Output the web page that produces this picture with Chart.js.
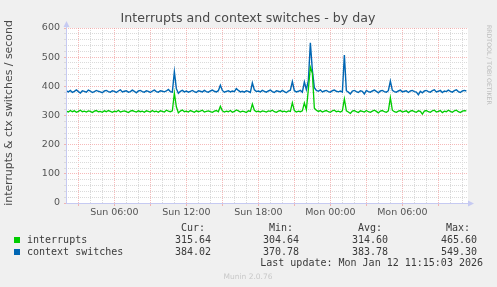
<!DOCTYPE html>
<html><head><meta charset="utf-8">
<script src="https://cdn.jsdelivr.net/npm/chart.js@4"></script>
<style>html,body{margin:0;padding:0;background:#f0f0f0;overflow:hidden}#wrap{width:497px;height:287px;position:relative}</style>
</head><body><div id="wrap"><canvas id="c" width="497" height="287"></canvas></div>
<script>
const titleText = 'Interrupts and context switches - by day';
const yTitleText = 'interrupts & ctx switches / second';
const seriesNames = ['interrupts', 'context switches'];
const seriesColors = ['#00cc00', '#0066b3'];
const startHour = 2;
const stepHours = 1 / 6;
const interrupts = [
315,312,317,313,316,311,314,318,313,315,312,316,314,310,315,317,313,314,311,316,
313,317,314,311,315,313,318,312,314,316,313,310,315,317,314,312,316,313,315,311,
316,314,312,317,313,315,311,316,314,312,318,315,313,316,377,330,309,315,319,313,
315,312,317,314,311,316,313,315,318,312,314,316,313,311,315,317,313,332,316,312,
315,313,317,311,314,319,316,312,315,313,310,316,314,339,318,313,315,312,316,314,
312,316,314,318,313,311,315,317,313,315,312,316,314,344,317,312,315,313,316,343,
320,390,466,445,325,318,314,317,312,315,317,313,311,316,318,313,315,312,316,357,
316,312,307,315,317,313,310,316,314,312,317,313,311,315,318,314,309,315,317,313,
311,316,361,318,313,311,315,317,312,314,316,310,315,317,313,311,316,314,305,315,
317,313,311,316,318,312,314,317,310,315,313,318,314,311,316,318,313,310,315,317,
316];
const contextSwitches = [
384,381,386,379,383,388,382,377,385,383,380,387,384,379,382,386,383,381,378,384,
386,382,380,385,383,379,384,388,381,383,385,380,382,387,383,378,384,386,382,380,
385,383,379,384,387,382,380,385,383,381,384,389,382,380,450,392,376,383,386,381,
384,380,383,386,382,379,385,383,381,386,382,380,384,387,383,381,385,404,386,380,
383,385,381,384,382,392,386,381,383,380,385,383,379,412,388,382,384,381,386,383,
380,384,387,382,379,385,383,381,386,382,378,384,387,416,385,381,383,386,380,415,
389,420,549,455,395,386,383,388,381,384,386,382,380,385,387,383,381,384,380,507,
385,380,374,384,386,382,379,385,383,374,386,382,380,384,387,383,378,384,386,382,
380,385,418,386,382,380,384,387,381,383,385,379,384,386,382,380,371,383,378,384,
386,382,380,385,388,381,383,386,379,384,382,387,383,380,385,388,382,379,384,386,
384];
const xMinHour = 1.97, xMaxHour = 35.47;
const xGridHours = [2,3,4,5,6,7,8,9,10,11,12,13,14,15,16,17,18,19,20,21,22,23,24,25,26,27,28,29,30,31,32,33,34,35];
const xLabelHours = [6, 12, 18, 24, 30];
const xLabelTexts = ['Sun 06:00', 'Sun 12:00', 'Sun 18:00', 'Mon 00:00', 'Mon 06:00'];
const yGridValues = [0,20,40,60,80,100,120,140,160,180,200,220,240,260,280,300,320,340,360,380,400,420,440,460,480,500,520,540,560,580,600];
const yLabelValues = [0,100,200,300,400,500,600];
const legendHeaders = ['Cur:', 'Min:', 'Avg:', 'Max:'];
const legendCur = ['315.64', '384.02'];
const legendMin = ['304.64', '370.78'];
const legendAvg = ['314.60', '383.78'];
const legendMax = ['465.60', '549.30'];
const lastUpdate = 'Last update: Mon Jan 12 11:15:03 2026';
const footerText = 'Munin 2.0.76';
const sideText = 'RRDTOOL / TOBI OETIKER';

const toPoints = arr => arr.map((v, i) => ({ x: startHour + i * stepHours, y: v }));
const MAJOR = 'rgba(240,140,140,0.6)';
const MINOR = '#dadada';
const AXIS = '#c6caf2';

const decor = {
  id: 'decor',
  beforeDraw(chart) {
    const { ctx, chartArea: a } = chart;
    ctx.save();
    ctx.fillStyle = '#f0f0f0';
    ctx.fillRect(0, 0, chart.width, chart.height);
    ctx.fillStyle = '#ffffff';
    ctx.fillRect(a.left, a.top, a.right - a.left, a.bottom - a.top);
    ctx.restore();
  },
  afterDraw(chart) {
    const { ctx, chartArea: a } = chart;
    ctx.save();
    ctx.strokeStyle = AXIS; ctx.fillStyle = AXIS; ctx.lineWidth = 1;
    ctx.beginPath();
    ctx.moveTo(a.left + 0.5, a.bottom + 0.5); ctx.lineTo(a.left + 0.5, a.top - 4);
    ctx.moveTo(a.left, a.bottom + 0.5); ctx.lineTo(a.right + 3, a.bottom + 0.5);
    ctx.stroke();
    ctx.beginPath();
    ctx.moveTo(a.left + 0.5, a.top - 7); ctx.lineTo(a.left - 2.5, a.top - 1); ctx.lineTo(a.left + 3.5, a.top - 1); ctx.closePath(); ctx.fill();
    ctx.beginPath();
    ctx.moveTo(a.right + 6, a.bottom + 0.5); ctx.lineTo(a.right, a.bottom - 2.5); ctx.lineTo(a.right, a.bottom + 3.5); ctx.closePath(); ctx.fill();
    ctx.fillStyle = '#4a4a4a';
    ctx.font = '12.6px "DejaVu Sans"';
    ctx.textAlign = 'center'; ctx.textBaseline = 'middle';
    ctx.fillText(titleText, 248, 19);
    ctx.save();
    ctx.translate(9, 113); ctx.rotate(-Math.PI / 2);
    ctx.font = '10.9px "DejaVu Sans"'; ctx.fillStyle = '#4a4a4a';
    ctx.fillText(yTitleText, 0, 0);
    ctx.restore();
    ctx.save();
    ctx.translate(488.5, 25); ctx.rotate(Math.PI / 2);
    ctx.font = '6.2px "DejaVu Sans"'; ctx.fillStyle = '#bdbdbd'; ctx.textAlign = 'left';
    ctx.fillText(sideText, 0, 0);
    ctx.restore();
    ctx.font = '10px "DejaVu Sans Mono"'; ctx.fillStyle = '#3a3a3a';
    ctx.textAlign = 'right';
    const hdrX = [205, 293, 382, 470];
    legendHeaders.forEach((h, i) => ctx.fillText(h, hdrX[i], 228));
    const valX = [211, 299, 388, 477];
    const cols = [legendCur, legendMin, legendAvg, legendMax];
    const rowY = [240, 252];
    seriesNames.forEach((n, r) => {
      ctx.fillStyle = seriesColors[r];
      ctx.fillRect(14, rowY[r] - 3, 6, 6);
      ctx.fillStyle = '#3a3a3a';
      ctx.textAlign = 'left';
      ctx.fillText(n, 27, rowY[r]);
      ctx.textAlign = 'right';
      cols.forEach((c, k) => ctx.fillText(c[r], valX[k], rowY[r]));
    });
    ctx.fillText(lastUpdate, 483, 263);
    ctx.font = '7.5px "DejaVu Sans"'; ctx.fillStyle = '#c8c8c8'; ctx.textAlign = 'center';
    ctx.fillText(footerText, 248, 277);
    ctx.restore();
  }
};

new Chart(document.getElementById('c'), {
  type: 'line',
  data: {
    datasets: [
      { label: seriesNames[0], data: toPoints(interrupts), borderColor: seriesColors[0], borderWidth: 1.3, pointRadius: 0, tension: 0, fill: false },
      { label: seriesNames[1], data: toPoints(contextSwitches), borderColor: seriesColors[1], borderWidth: 1.4, pointRadius: 0, tension: 0, fill: false }
    ]
  },
  options: {
    responsive: false, animation: false, devicePixelRatio: 1,
    layout: { padding: { left: 0, right: 29, top: 28, bottom: 0 } },
    plugins: { legend: { display: false }, tooltip: { enabled: false }, title: { display: false } },
    scales: {
      x: {
        type: 'linear', min: xMinHour, max: xMaxHour,
        afterFit: s => { s.height = 84; },
        afterBuildTicks: s => { s.ticks = xGridHours.map(v => ({ value: v })); },
        ticks: {
          autoSkip: false, maxRotation: 0, padding: 1, color: '#555',
          font: { family: 'DejaVu Sans', size: 9.5 },
          callback: v => { const k = xLabelHours.indexOf(v); return k >= 0 ? xLabelTexts[k] : ''; }
        },
        grid: {
          color: c => (c.tick && c.tick.value % 3 === 0) ? MAJOR : MINOR,
          tickColor: c => (c.tick && c.tick.value % 3 === 0) ? MAJOR : 'rgba(0,0,0,0)',
          tickLength: 3, lineWidth: 1
        },
        border: { display: false, dash: [1, 1] }
      },
      y: {
        type: 'linear', min: 0, max: 600,
        afterFit: s => { s.width = 66; },
        afterBuildTicks: s => { s.ticks = yGridValues.map(v => ({ value: v })); },
        ticks: {
          autoSkip: false, padding: 4, color: '#555',
          font: { family: 'DejaVu Sans', size: 9.5 },
          callback: v => yLabelValues.includes(v) ? String(v) : ''
        },
        grid: {
          color: c => (c.tick && c.tick.value % 100 === 0) ? MAJOR : MINOR,
          tickColor: c => (c.tick && c.tick.value % 100 === 0) ? MAJOR : MINOR,
          tickLength: 2, lineWidth: 1
        },
        border: { display: false, dash: [1, 1] }
      }
    }
  },
  plugins: [decor]
});
</script></body></html>
